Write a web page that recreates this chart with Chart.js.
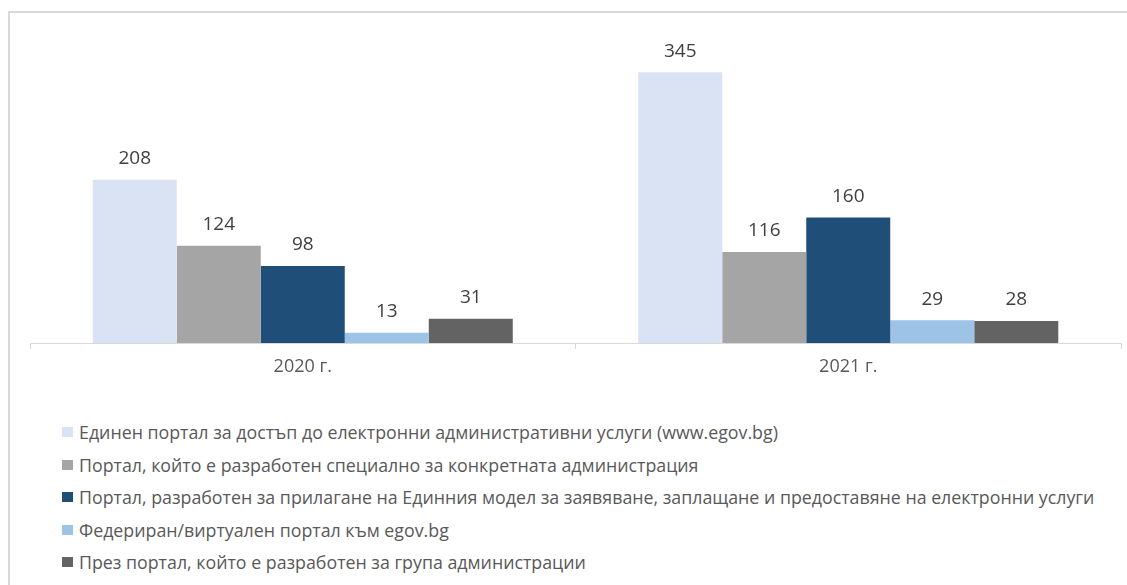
<!DOCTYPE html>
<html>
<head>
<meta charset="utf-8">
<script src="https://cdn.jsdelivr.net/npm/chart.js@4"></script>
<style>
  body { margin: 0; background: #fff; font-family: 'Open Sans', sans-serif; }
  #wrap { position: relative; width: 1127px; height: 585px; overflow: hidden; }
  #frame { position: absolute; left: 8px; top: 11px; width: 1200px; height: 700px; border: 2px solid #d9d9d9; box-sizing: border-box; }
  #box { position: absolute; left: 0; top: 0; width: 1127px; height: 390px; }
  #legend { position: absolute; left: 62px; top: 416px; }
  .item { display: flex; align-items: center; height: 32.5px; color: #595959; font-size: 17.8px; white-space: nowrap; }
  .swatch { width: 11px; height: 10px; margin-right: 6px; }
</style>
</head>
<body>
<div id="wrap">
  <div id="frame"></div>
  <div id="box"><canvas id="chart"></canvas></div>
  <div id="legend"></div>
</div>
<script>
const categories = ['2020 г.', '2021 г.'];
const seriesNames = [
  'Единен портал за достъп до електронни административни услуги (www.egov.bg)',
  'Портал, който е разработен специално за конкретната администрация',
  'Портал, разработен за прилагане на Единния модел за заявяване, заплащане и предоставяне на електронни услуги',
  'Федериран/виртуален портал към egov.bg',
  'През портал, който е разработен за група администрации'
];
const egov = [208, 345];
const ownPortal = [124, 116];
const unifiedModel = [98, 160];
const federated = [13, 29];
const groupPortal = [31, 28];
const colors = ['#dae3f3', '#a5a5a5', '#1f4e79', '#9dc3e6', '#636363'];

const allValues = [egov, ownPortal, unifiedModel, federated, groupPortal];

const valueLabels = {
  id: 'valueLabels',
  afterDatasetsDraw(chart) {
    const ctx = chart.ctx;
    ctx.save();
    ctx.font = '19px "Open Sans"';
    ctx.fillStyle = '#404040';
    ctx.textAlign = 'center';
    ctx.textBaseline = 'middle';
    chart.data.datasets.forEach((ds, i) => {
      chart.getDatasetMeta(i).data.forEach((bar, j) => {
        ctx.fillText(ds.data[j], bar.x, bar.y - 21);
      });
    });
    ctx.restore();
  }
};

const chart = new Chart(document.getElementById('chart'), {
  type: 'bar',
  data: {
    labels: categories,
    datasets: allValues.map((vals, i) => ({
      label: seriesNames[i],
      data: vals,
      backgroundColor: colors[i],
      categoryPercentage: 0.77,
      barPercentage: 1
    }))
  },
  options: {
    responsive: true,
    maintainAspectRatio: false,
    animation: false,
    layout: { padding: { left: 30, right: 6, top: 29, bottom: 0 } },
    plugins: {
      legend: { display: false },
      tooltip: { enabled: false }
    },
    scales: {
      x: {
        grid: { display: true, drawOnChartArea: false, drawTicks: true, tickLength: 6, color: '#d9d9d9' },
        border: { color: '#d9d9d9', width: 1 },
        ticks: { color: '#595959', font: { family: 'Open Sans', size: 18 }, padding: 7 },
        afterFit(scale) { scale.height = 47; }
      },
      y: {
        display: false,
        min: 0,
        max: 400
      }
    }
  },
  plugins: [valueLabels]
});

const legend = document.getElementById('legend');
chart.data.datasets.forEach(ds => {
  const row = document.createElement('div');
  row.className = 'item';
  const sw = document.createElement('span');
  sw.className = 'swatch';
  sw.style.background = ds.backgroundColor;
  row.appendChild(sw);
  row.appendChild(document.createTextNode(ds.label));
  legend.appendChild(row);
});
</script>
</body>
</html>
